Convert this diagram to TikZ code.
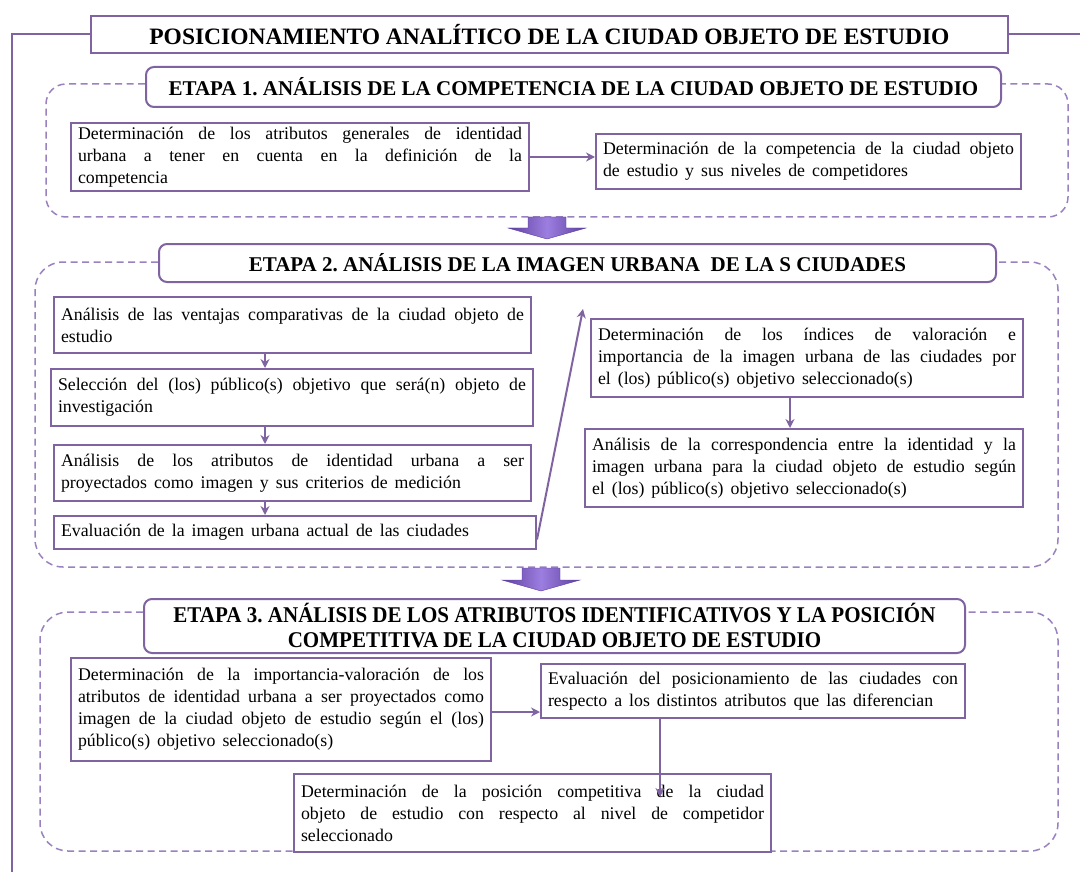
\documentclass[tikz,border=0pt]{standalone}
\usepackage{fontspec}
\setmainfont{Liberation Serif}
\newfontfamily\condfont{Liberation Serif}[FakeStretch=0.935]
\usetikzlibrary{arrows.meta}
\definecolor{pcol}{HTML}{8064A2}
\definecolor{dcol}{HTML}{9A82C0}
\definecolor{blkdark}{HTML}{5E3F9E}
\definecolor{blklight}{HTML}{9C7EE0}
\frenchspacing
\newcommand\wsp{\spaceskip=7pt plus 6pt minus 2pt\relax}
\begin{document}
\begin{tikzpicture}[x=1pt,y=-1pt,
  bx/.style={draw=pcol, line width=2pt, fill=white, inner xsep=7pt, inner ysep=2pt,
    align=justify, font=\fontsize{17.8}{22}\selectfont, execute at begin node=\wsp, anchor=north west},
  hd/.style={draw=pcol, line width=2pt, fill=white, rounded corners=8pt, anchor=north west,
    font=\fontsize{21}{24}\selectfont\bfseries, inner sep=0pt, align=center},
  dsh/.style={draw=dcol, line width=1.5pt, dash pattern=on 7pt off 4.5pt, rounded corners=28pt},
  con/.style={draw=pcol, line width=2pt, -{Stealth[length=9pt,width=9pt]}},
  blk/.style={left color=blkdark, right color=blkdark, middle color=blklight, draw=blkdark, line width=0.4pt}
]
\fill[white] (0,0) rectangle (1080,872);
\useasboundingbox (0,0) rectangle (1080,872);

% ---------- stage frames (dashed) ----------
\draw[dsh, rounded corners=20pt] (145,84) -| (46,217) -- (1068,217) |- (1000,84);
\draw[dsh] (158,262) -| (35,567) -- (1058,567) |- (995,262);
\draw[dsh] (143,612) -| (40,851) -- (1058,851) |- (964,612);

% ---------- title and main frame ----------
\node[draw=pcol, line width=2pt, fill=white, minimum width=917pt, minimum height=37pt,
  anchor=north west, inner sep=0pt, font=\fontsize{23.5}{26}\selectfont\bfseries] (title) at (90,15)
  {POSICIONAMIENTO ANALÍTICO DE LA CIUDAD OBJETO DE ESTUDIO};
\coordinate (mainbot) at (12,872);
\coordinate (mainright) at (1080,0);
\draw[pcol, line width=2pt] (title.west) -| (mainbot);
\draw[pcol, line width=2pt] (title.east) -- (title.east -| mainright);

% ---------- headings ----------
\node[hd, minimum width=855pt, minimum height=40pt] (h1) at (145,66)
  {ETAPA 1. ANÁLISIS DE LA COMPETENCIA DE LA CIUDAD OBJETO DE ESTUDIO};
\node[hd, minimum width=837pt, minimum height=38pt] (h2) at (158,243)
  {ETAPA 2. ANÁLISIS DE LA IMAGEN URBANA \ DE LA S CIUDADES};
\node[hd, minimum width=821pt, minimum height=54pt, font=\fontsize{22.5}{25}\condfont\bfseries] (h3) at (143,598)
  {ETAPA 3. ANÁLISIS DE LOS ATRIBUTOS IDENTIFICATIVOS Y LA POSICIÓN\\COMPETITIVA DE LA CIUDAD OBJETO DE ESTUDIO};

% ---------- block arrows ----------
\path[blk] (528,217) -- (566,217) -- (566,228) -- (586,228) -- (547,239) -- (508,228) -- (528,228) -- cycle;
\path[blk] (522,568) -- (560,568) -- (560,580) -- (580,580) -- (541,591) -- (502,580) -- (522,580) -- cycle;

% ---------- stage 1 ----------
\node[bx, text width=444pt, minimum height=68pt] (a) at (70,122)
  {Determinación de los atributos generales de identidad\linebreak urbana a tener en cuenta en la definición de la\linebreak competencia};
\node[bx, text width=411pt, minimum height=55pt] (b) at (595,133)
  {Determinación de la competencia de la ciudad objeto\linebreak de estudio y sus niveles de competidores};

% ---------- stage 2 ----------
\node[bx, text width=463pt, minimum height=56pt] (l1) at (53,296)
  {Análisis de las ventajas comparativas de la ciudad objeto de\linebreak estudio};
\node[bx, text width=468pt, minimum height=57pt] (l2) at (50,368)
  {Selección del (los) público(s) objetivo que será(n) objeto de\linebreak investigación};
\node[bx, text width=463pt, minimum height=56pt] (l3) at (53,444)
  {Análisis de los atributos de identidad urbana a ser\linebreak proyectados como imagen y sus criterios de medición};
\node[bx, text width=468pt, minimum height=33pt] (l4) at (53,515)
  {Evaluación de la imagen urbana actual de las ciudades};
\node[bx, text width=418pt, minimum height=78pt] (r1) at (590,318)
  {Determinación de los índices de valoración e\linebreak importancia de la imagen urbana de las ciudades por\linebreak el (los) público(s) objetivo seleccionado(s)};
\node[bx, text width=424pt, minimum height=78pt] (r2) at (584,428)
  {Análisis de la correspondencia entre la identidad y la\linebreak imagen urbana para la ciudad objeto de estudio según\linebreak el (los) público(s) objetivo seleccionado(s)};

% ---------- stage 3 ----------
\node[bx, text width=406pt, minimum height=103pt] (s1) at (70,657)
  {Determinación de la importancia-valoración de los\linebreak atributos de identidad urbana a ser proyectados como\linebreak imagen de la ciudad objeto de estudio según el (los)\linebreak público(s) objetivo seleccionado(s)};
\node[bx, text width=410pt, minimum height=54pt] (s2) at (540,663)
  {Evaluación del posicionamiento de las ciudades con\linebreak respecto a los distintos atributos que las diferencian};
\node[bx, text width=463pt, minimum height=78pt] (s3) at (293,773)
  {Determinación de la posición competitiva de la ciudad\linebreak objeto de estudio con respecto al nivel de competidor\linebreak seleccionado};

% ---------- connectors ----------
\coordinate (ax) at (265,0);
\coordinate (rx) at (790,0);
\coordinate (sy) at (0,712);
\coordinate (r1tip) at (583,309);
\coordinate (s3tip) at (660,797);
\draw[con] (a.east) -- (a.east -| b.west);
\draw[con] (l1.south -| ax) -- (l2.north -| ax);
\draw[con] (l2.south -| ax) -- (l3.north -| ax);
\draw[con] (l3.south -| ax) -- (l4.north -| ax);
\draw[con] ([yshift=-7pt]l4.east) -- (r1tip);
\draw[con] (r1.south -| rx) -- (r2.north -| rx);
\draw[con] (s1.east |- sy) -- (s2.west |- sy);
\draw[con] (s2.south -| s3tip) -- (s3tip);
\end{tikzpicture}
\end{document}
